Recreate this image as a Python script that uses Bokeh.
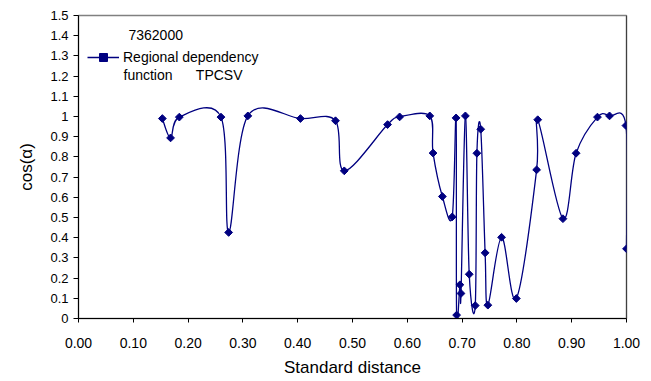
import numpy as np
from bokeh.plotting import figure
from bokeh.models import ColumnDataSource, FixedTicker, Span, Label, Legend, LegendItem
from bokeh.embed import file_html
from bokeh.resources import INLINE

# ---- data ----
std_distance = [0.153, 0.168, 0.184, 0.260, 0.274, 0.309, 0.405, 0.469, 0.485, 0.564,
                0.586, 0.641, 0.647, 0.664, 0.682, 0.689, 0.690, 0.696, 0.698, 0.706,
                0.713, 0.724, 0.727, 0.734, 0.742, 0.747, 0.772, 0.799, 0.836, 0.838,
                0.884, 0.908, 0.947, 0.969, 0.999, 1.000]
cos_alpha = [0.990, 0.894, 0.997, 0.997, 0.426, 1.003, 0.990, 0.979, 0.731, 0.960,
             0.998, 1.003, 0.819, 0.604, 0.503, 0.993, 0.017, 0.167, 0.124, 1.003,
             0.219, 0.064, 0.818, 0.937, 0.325, 0.066, 0.402, 0.099, 0.736, 0.984,
             0.494, 0.818, 0.997, 1.003, 0.955, 0.345]

x_ticks = [0.0, 0.1, 0.2, 0.3, 0.4, 0.5, 0.6, 0.7, 0.8, 0.9, 1.0]
x_tick_labels = ["0.00", "0.10", "0.20", "0.30", "0.40", "0.50", "0.60", "0.70", "0.80", "0.90", "1.00"]
y_ticks = [0.0, 0.1, 0.2, 0.3, 0.4, 0.5, 0.6, 0.7, 0.8, 0.9, 1.0, 1.1, 1.2, 1.3, 1.4, 1.5]
y_tick_labels = ["0", "0.1", "0.2", "0.3", "0.4", "0.5", "0.6", "0.7", "0.8", "0.9",
                 "1", "1.1", "1.2", "1.3", "1.4", "1.5"]

station_text = "7362000"
series_label = "Regional dependency"
series_label_2 = "function\u00a0\u00a0\u00a0\u00a0\u00a0\u00a0TPCSV"
x_title = "Standard distance"
y_title = "cos(\u03b1)"

NAVY = "#000080"
FONT = "Liberation Sans"

# ---- smoothed connecting curve (Catmull-Rom -> cubic Bezier control points) ----
px = np.array(std_distance)
py = np.array(cos_alpha)
n = len(px)
prev_i = np.r_[0, np.arange(0, n - 2)]
next_i = np.r_[np.arange(2, n), n - 1]
i0 = np.arange(0, n - 1)
i1 = i0 + 1
cx0 = px[i0] + (px[i1] - px[prev_i]) / 6.0
cy0 = py[i0] + (py[i1] - py[prev_i]) / 6.0
cx1 = px[i1] - (px[next_i] - px[i0]) / 6.0
cy1 = py[i1] - (py[next_i] - py[i0]) / 6.0
seg = ColumnDataSource(dict(x0=px[i0], y0=py[i0], x1=px[i1], y1=py[i1],
                            cx0=cx0, cy0=cy0, cx1=cx1, cy1=cy1))
pts = ColumnDataSource(dict(x=std_distance, y=cos_alpha))

p = figure(width=651, height=381, x_range=(0, 1), y_range=(0, 1.5),
           output_backend="svg", toolbar_location=None,
           min_border_left=78, min_border_right=25, min_border_top=15, min_border_bottom=63)
p.background_fill_color = "white"
p.border_fill_color = "white"
p.outline_line_color = "#808080"
p.outline_line_width = 1.5
p.xgrid.visible = False
p.ygrid.visible = False

p.add_layout(Span(location=1.0, dimension="height", line_color="black", line_width=1,
                  level="underlay"))

curve = p.bezier(x0="x0", y0="y0", x1="x1", y1="y1", cx0="cx0", cy0="cy0",
                 cx1="cx1", cy1="cy1", source=seg, line_color=NAVY, line_width=1.3)
marks = p.scatter(x="x", y="y", source=pts, marker="square", angle=np.pi / 4,
                  size=5.5, fill_color=NAVY, line_color=NAVY)

# axes
for ax in (p.xaxis[0], p.yaxis[0]):
    ax.axis_line_color = "black"
    ax.axis_line_width = 1
    ax.major_tick_line_color = "black"
    ax.minor_tick_line_color = None
    ax.major_tick_in = 0
    ax.major_label_text_font = FONT
    ax.major_label_text_color = "black"
    ax.axis_label_text_font = FONT
    ax.axis_label_text_font_style = "normal"
    ax.axis_label_text_color = "black"
    ax.axis_label_text_font_size = "17px"

p.xaxis.ticker = FixedTicker(ticks=x_ticks)
p.xaxis.major_label_overrides = dict(zip(x_ticks, x_tick_labels))
p.xaxis.major_tick_out = 4
p.xaxis.major_label_standoff = 15
p.xaxis.major_label_text_font_size = "14px"
p.xaxis.axis_label = x_title
p.xaxis.axis_label_standoff = 7

p.yaxis.ticker = FixedTicker(ticks=y_ticks)
p.yaxis.major_label_overrides = dict(zip(y_ticks, y_tick_labels))
p.yaxis.major_tick_out = 5
p.yaxis.major_label_standoff = 5
p.yaxis.major_label_text_font_size = "13px"
p.yaxis.axis_label = y_title
p.yaxis.axis_label_standoff = 11

# legend
legend = Legend(items=[LegendItem(label=series_label, renderers=[curve, marks])],
                location=(9, 251), padding=0, margin=0, spacing=0,
                glyph_width=32, glyph_height=20, label_standoff=4, label_height=20,
                label_text_font=FONT, label_text_font_size="14px",
                label_text_color="black",
                border_line_color=None, background_fill_alpha=0)
p.add_layout(legend)

p.add_layout(Label(x=0.0821, y=1.203, text=series_label_2, text_font=FONT,
                   text_font_size="14px", text_baseline="middle", text_color="black"))
p.add_layout(Label(x=0.0912, y=1.401, text=station_text, text_font=FONT,
                   text_font_size="14px", text_baseline="middle", text_color="black"))

open("out.html", "w").write(file_html(p, INLINE))
